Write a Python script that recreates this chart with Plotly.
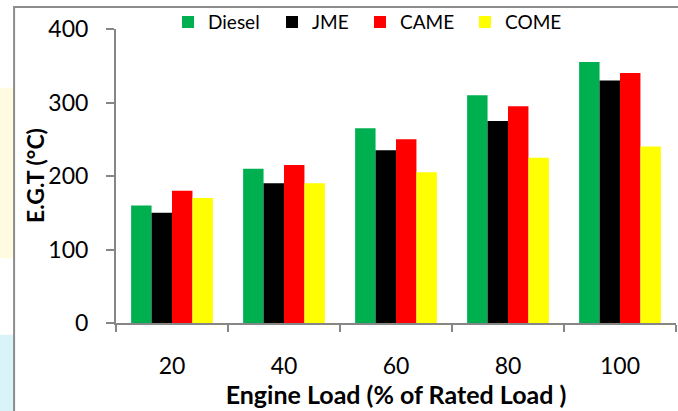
import plotly.graph_objects as go

loads = ["20", "40", "60", "80", "100"]
diesel = [160, 210, 265, 310, 355]
jme = [150, 190, 235, 275, 330]
came = [180, 215, 250, 295, 340]
come = [170, 190, 205, 225, 240]

series_names = ["Diesel", "JME", "CAME", "COME"]
series_values = [diesel, jme, came, come]
series_colors = ["#00B050", "#000000", "#FF0000", "#FFFF00"]

font_family = "Lato, Carlito, Calibri, 'Liberation Sans', sans-serif"
legend_ids = ["legend", "legend2", "legend3", "legend4"]
legend_x = [0.0929, 0.2786, 0.4357, 0.6232]

fig = go.Figure()
for name, vals, col, lid in zip(series_names, series_values, series_colors, legend_ids):
    fig.add_trace(go.Bar(
        x=loads, y=vals, name=name, legend=lid,
        marker=dict(color=col, line=dict(width=0)),
    ))

axis_col = "#868686"
frame_col = "#8C8C8C"

# decorative frame & left-strip background (paper coords)
fig.add_shape(type="rect", xref="paper", yref="paper",
              x0=-0.21, x1=-0.182, y0=0.22, y1=0.80,
              fillcolor="#FFFBE0", line=dict(width=0), layer="below")
fig.add_shape(type="rect", xref="paper", yref="paper",
              x0=-0.21, x1=-0.182, y0=-0.30, y1=-0.04,
              fillcolor="#D9F3FB", line=dict(width=0), layer="below")
fig.add_shape(type="rect", xref="paper", yref="paper",
              x0=-0.182, x1=1.05, y0=-0.5, y1=1.0748,
              fillcolor="rgba(0,0,0,0)", line=dict(color=frame_col, width=2))

fig.add_annotation(text="<b>E.G.T (°C)</b>", textangle=-90,
                   xref="paper", yref="paper", x=-0.1446, y=0.50,
                   xanchor="center", yanchor="middle", showarrow=False,
                   font=dict(size=23, family=font_family, color="#000000"))

legend_common = dict(orientation="h", xanchor="left", y=1.088, yanchor="top",
                     font=dict(size=19, family=font_family), bgcolor="rgba(0,0,0,0)",
                     itemwidth=30)

fig.update_layout(
    width=678, height=411,
    margin=dict(l=116, r=2, t=29, b=88, autoexpand=False),
    paper_bgcolor="white", plot_bgcolor="white",
    barmode="group", bargap=0.27, bargroupgap=0,
    font=dict(family=font_family, color="#000000"),
    showlegend=True,
    legend=dict(x=legend_x[0], **legend_common),
    legend2=dict(x=legend_x[1], **legend_common),
    legend3=dict(x=legend_x[2], **legend_common),
    legend4=dict(x=legend_x[3], **legend_common),
    xaxis=dict(
        type="category", range=[-0.5, 4.5],
        showline=True, linecolor=axis_col, linewidth=2,
        ticks="outside", tickson="boundaries", ticklen=7, tickwidth=2, tickcolor=axis_col,
        tickfont=dict(size=23, family=font_family),
        ticklabelstandoff=21,
        showgrid=False, zeroline=False,
        title=dict(text="<b>Engine Load (% of Rated Load )</b>",
                   font=dict(size=25, family=font_family), standoff=2),
    ),
    yaxis=dict(
        range=[0, 400], tickvals=[0, 100, 200, 300, 400],
        showline=True, linecolor=axis_col, linewidth=2,
        ticks="outside", ticklen=8, tickwidth=2, tickcolor=axis_col,
        tickfont=dict(size=23, family=font_family),
        ticklabelstandoff=13,
        showgrid=False, zeroline=False,
    ),
)

fig.write_html("out.html", config={"displayModeBar": False},
               post_script="document.body.style.margin='0';")
